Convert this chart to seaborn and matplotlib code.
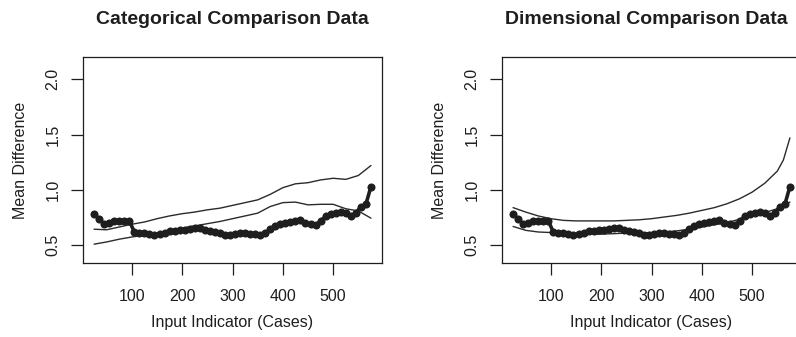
import pandas as pd
import matplotlib
matplotlib.use("Agg")
import matplotlib.pyplot as plt
import seaborn as sns

# styling...
sns.set_style("white")
plt.rcParams["font.family"] = ["Liberation Sans", "DejaVu Sans"]

# main series (same in both panels)
cases = [25, 35, 45, 55, 65, 75, 85, 95, 105, 115, 125, 135, 145, 155, 165, 175,
         185, 195, 205, 215, 225, 235, 245, 255, 265, 275, 285, 295, 305, 315, 325,
         335, 345, 355, 365, 375, 385, 395, 405, 415, 425, 435, 445, 455, 465, 475,
         485, 495, 505, 515, 525, 535, 545, 555, 565, 575]
mean_diff = [0.78, 0.74, 0.69, 0.70, 0.72, 0.72, 0.72, 0.72, 0.62, 0.615, 0.61, 0.60,
             0.59, 0.605, 0.61, 0.625, 0.63, 0.635, 0.64, 0.645, 0.655, 0.66, 0.64,
             0.625, 0.62, 0.61, 0.59, 0.59, 0.60, 0.61, 0.615, 0.605, 0.60, 0.59,
             0.61, 0.645, 0.67, 0.69, 0.70, 0.71, 0.72, 0.73, 0.70, 0.69, 0.68, 0.72,
             0.76, 0.785, 0.795, 0.80, 0.795, 0.76, 0.795, 0.845, 0.87, 1.03]

# envelope lines
env_x = [25, 50, 75, 100, 125, 150, 175, 200, 225, 250, 275, 300, 325, 350, 375,
         400, 425, 450, 475, 500, 525, 550, 575]
cat_upper = [0.645, 0.64, 0.665, 0.69, 0.71, 0.74, 0.765, 0.785, 0.80, 0.82, 0.835,
             0.86, 0.885, 0.91, 0.96, 1.02, 1.055, 1.065, 1.09, 1.105, 1.095, 1.13, 1.22]
cat_lower = [0.51, 0.53, 0.555, 0.575, 0.59, 0.61, 0.63, 0.655, 0.675, 0.695, 0.715,
             0.74, 0.765, 0.79, 0.85, 0.885, 0.89, 0.865, 0.87, 0.87, 0.83, 0.81, 0.745]

dim_x = [25, 50, 75, 100, 125, 150, 175, 200, 225, 250, 275, 300, 325, 350, 375,
         400, 425, 450, 475, 500, 525, 550, 562, 575]
dim_upper = [0.84, 0.80, 0.765, 0.74, 0.725, 0.72, 0.72, 0.72, 0.72, 0.725, 0.73,
             0.74, 0.755, 0.77, 0.79, 0.815, 0.84, 0.875, 0.92, 0.98, 1.06, 1.17,
             1.27, 1.47]
dim_lower = [0.67, 0.635, 0.62, 0.615, 0.605, 0.60, 0.60, 0.60, 0.605, 0.61, 0.61,
             0.615, 0.62, 0.63, 0.645, 0.665, 0.685, 0.705, 0.735, 0.765, 0.795, 0.83,
             0.86, 0.89]

main_df = pd.DataFrame({"Cases": cases, "Mean": mean_diff})

panels = [
    ("Categorical Comparison Data", env_x, cat_upper, cat_lower, 83, 0.5),
    ("Dimensional Comparison Data", dim_x, dim_upper, dim_lower, 502, 0.484),
]

W, H = 796, 337
fig = plt.figure(figsize=(W / 100, H / 100), dpi=100)
ink = "#1e1e1e"

for title, ex, up, lo, left_px, title_x in panels:
    ax = fig.add_axes([left_px / W, 1 - 263 / H, 299 / W, 206 / H])
    env_df = pd.DataFrame({"Cases": ex, "Upper": up, "Lower": lo})
    sns.lineplot(data=env_df, x="Cases", y="Upper", ax=ax, color="#2b2b2b", linewidth=1.0)
    sns.lineplot(data=env_df, x="Cases", y="Lower", ax=ax, color="#2b2b2b", linewidth=1.0)
    sns.lineplot(data=main_df, x="Cases", y="Mean", ax=ax, color=ink, linewidth=2.6,
                 marker="o", markersize=5.8, markeredgewidth=0)

    ax.set_xlim(3, 597)
    ax.set_ylim(0.34, 2.2)
    ax.set_xticks([100, 200, 300, 400, 500])
    ax.set_yticks([0.5, 1.0, 1.5, 2.0])
    ax.set_yticklabels(["0.5", "1.0", "1.5", "2.0"], rotation=90, va="center")
    ax.tick_params(axis="both", direction="out", length=8.3, width=0.9, colors=ink,
                   labelsize=11.5, left=True, bottom=True)
    ax.tick_params(axis="x", pad=10.5)
    ax.tick_params(axis="y", pad=8)
    for sp in ax.spines.values():
        sp.set_color(ink)
        sp.set_linewidth(0.9)

    ax.set_xlabel("Input Indicator (Cases)", fontsize=11.5, color=ink)
    ax.set_ylabel("Mean Difference", fontsize=11.5, color=ink)
    ax.xaxis.set_label_coords(0.5, -0.291)
    ax.xaxis.label.set_va("center")
    ax.yaxis.set_label_coords(-0.21, 0.5)
    ax.yaxis.label.set_va("center")

    ax.text(title_x, 1.18, title, transform=ax.transAxes, ha="center", va="center",
            fontsize=14, fontweight="bold", color=ink)

fig.savefig("out.png", dpi=100)
